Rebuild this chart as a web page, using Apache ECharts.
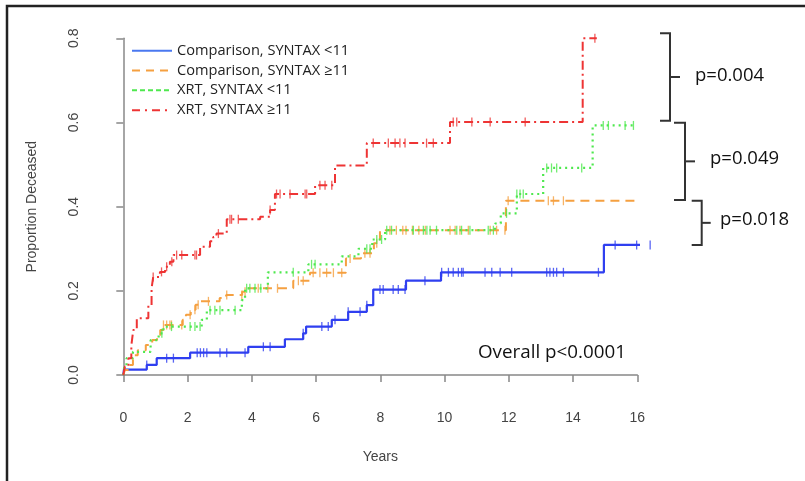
<!DOCTYPE html>
<html>
<head>
<meta charset="utf-8">
<script src="https://cdn.jsdelivr.net/npm/echarts@6/dist/echarts.min.js"></script>
<style>html,body{margin:0;padding:0;background:#fff;}#c{width:805px;height:481px;}</style>
</head>
<body>
<div id="c"></div>
<script>
// ---- Data (step points: [years, proportion]) ----
const seriesNames = ['Comparison, SYNTAX <11', 'Comparison, SYNTAX \u226511', 'XRT, SYNTAX <11', 'XRT, SYNTAX \u226511'];
const xTicks = [0, 2, 4, 6, 8, 10, 12, 14, 16];
const yTicks = [0.0, 0.2, 0.4, 0.6, 0.8];

const compLow = [[0,0],[0.02,0.013],[0.73,0.024],[1.04,0.04],[2.08,0.053],[3.89,0.067],[5.03,0.085],[5.6,0.099],[5.69,0.115],[6.49,0.131],[7.0,0.15],[7.58,0.166],[7.78,0.203],[8.8,0.224],[9.89,0.244],[14.96,0.309],[16.6,0.309]];
const compHigh = [[0,0],[0.05,0.012],[0.15,0.024],[0.3,0.047],[0.45,0.059],[0.7,0.071],[0.9,0.083],[1.05,0.095],[1.15,0.107],[1.25,0.119],[1.85,0.131],[1.95,0.143],[2.1,0.155],[2.25,0.167],[2.4,0.175],[3.0,0.183],[3.2,0.19],[3.7,0.198],[3.85,0.206],[5.29,0.224],[5.81,0.243],[6.93,0.277],[7.4,0.289],[7.8,0.313],[7.99,0.344],[11.91,0.414],[16.6,0.414]];
const xrtLow = [[0,0],[0.03,0.02],[0.1,0.04],[0.3,0.055],[0.85,0.083],[1.1,0.099],[1.25,0.115],[2.44,0.131],[2.6,0.154],[3.69,0.178],[3.79,0.206],[4.5,0.244],[5.76,0.263],[6.8,0.282],[7.32,0.30],[7.75,0.322],[8.15,0.344],[11.57,0.36],[11.75,0.384],[12.25,0.43],[13.07,0.492],[14.61,0.593],[15.98,0.593]];
const xrtHigh = [[0,0],[0.05,0.02],[0.16,0.04],[0.25,0.07],[0.31,0.107],[0.42,0.135],[0.78,0.166],[0.88,0.206],[0.93,0.233],[1.14,0.245],[1.3,0.257],[1.45,0.269],[1.56,0.285],[2.39,0.305],[2.7,0.318],[2.8,0.328],[2.9,0.336],[3.22,0.37],[4.26,0.376],[4.57,0.392],[4.72,0.43],[5.97,0.451],[6.59,0.498],[7.58,0.551],[10.17,0.601],[14.3,0.8],[14.74,0.8]];

// censoring times (years)
const censorCompLow = [0.73,1.35,1.56,2.3,2.4,2.5,2.6,3.01,3.22,3.79,4.36,4.57,5.6,6.18,6.38,6.59,7.0,7.37,7.58,7.99,8.09,8.4,8.56,8.77,9.39,9.91,10.12,10.27,10.43,10.53,10.58,11.26,11.47,11.73,12.09,13.18,13.28,13.39,13.49,13.7,14.79,15.31,15.98,16.4];
const censorCompHigh = [1.25,1.35,1.45,1.5,1.82,2.08,2.23,2.33,2.65,3.22,3.69,3.79,4.2,4.5,4.8,5.45,5.6,5.91,6.12,6.33,6.54,6.8,7.06,7.52,7.68,7.89,8.3,8.5,8.7,8.8,9.0,9.2,9.4,10.17,10.33,10.48,10.74,11.42,11.62,11.88,11.98,13.23,13.39,13.7];
const censorXrtLow = [1.2,1.5,2.08,2.23,2.39,2.7,2.85,3.01,3.48,3.84,3.94,4.1,4.28,5.29,5.86,5.97,7.58,7.68,7.89,8.04,8.2,8.35,9.03,9.34,9.45,9.55,9.75,10.38,10.53,10.79,11.36,11.52,11.93,12.25,12.35,12.45,13.18,13.33,13.49,14.27,14.94,15.1,15.62,15.88];
const censorXrtHigh = [0.93,1.19,1.35,1.51,1.66,1.82,2.23,2.28,2.96,3.32,3.37,3.58,4.57,4.77,4.88,5.19,5.66,5.71,6.12,6.28,6.49,7.78,8.25,8.46,8.61,8.77,9.44,9.65,10.27,10.38,10.85,11.42,12.51,14.68];

// ---- helpers ----
function stepValue(steps, t) {
  let v = steps[0][1];
  for (const p of steps) { if (p[0] <= t) v = p[1]; else break; }
  return v;
}
function censorPoints(steps, times) { return times.map(t => [t, stepValue(steps, t)]); }

const colors = ['#2f3ff0', '#f5a040', '#4ee84e', '#ee3434'];
const legendColors = ['#4a78f0', '#f5a040', '#4ee84e', '#ee3434'];
const dashes = ['solid', [9, 6], [2, 4], [9, 4, 2, 4]];
const legendDashes = [null, [8, 6], [5, 3], [8, 5, 2, 5]];
const stepData = [compLow, compHigh, xrtLow, xrtHigh];
const censorData = [censorCompLow, censorCompHigh, censorXrtLow, censorXrtHigh];
const widths = [2.2, 2, 2.2, 2];

const series = [];
for (let i = 0; i < 4; i++) {
  series.push({
    name: seriesNames[i], type: 'line', step: 'end', data: stepData[i],
    showSymbol: false, symbol: 'none', clip: false, z: 3 + i,
    lineStyle: { color: colors[i], width: widths[i], type: dashes[i] },
    itemStyle: { color: colors[i] }, silent: true, animation: false
  });
}
for (let i = 0; i < 4; i++) {
  series.push({
    name: seriesNames[i] + ' censored', type: 'scatter', data: censorPoints(stepData[i], censorData[i]),
    symbol: 'rect', symbolSize: [1.3, 9], clip: false, z: 3 + i,
    itemStyle: { color: colors[i], opacity: 0.8 }, silent: true, animation: false
  });
}

const font = '"Liberation Sans", Arial, sans-serif';
const brk = { stroke: '#333', lineWidth: 2 };
function bracket(x, y1, y2, armL, armR) {
  const ym = (y1 + y2) / 2;
  return [
    { type: 'polyline', shape: { points: [[x - armL, y1], [x, y1], [x, y2], [x - armL, y2]] }, style: Object.assign({ fill: null }, brk) },
    { type: 'line', shape: { x1: x, y1: ym, x2: x + armR, y2: ym }, style: brk }
  ];
}
function label(x, y, text, size) {
  return { type: 'text', x: x, y: y, silent: true,
    style: { text: text, font: size + 'px "Open Sans", sans-serif', fill: '#111', verticalAlign: 'middle', align: 'left' } };
}
// manual legend
const legendRows = [50.7, 70.5, 90.3, 110.3];
const legendGraphics = [];
for (let i = 0; i < 4; i++) {
  legendGraphics.push({ type: 'line', shape: { x1: 132, y1: legendRows[i], x2: 172, y2: legendRows[i] },
    style: { stroke: legendColors[i], lineWidth: 2, lineDash: legendDashes[i] }, silent: true });
  const t = label(177, legendRows[i], seriesNames[i], 14.6);
  t.style.fill = '#222';
  legendGraphics.push(t);
}

const chart = echarts.init(document.getElementById('c'), null, { renderer: 'canvas' });
chart.setOption({
  backgroundColor: '#fff',
  animation: false,
  grid: { left: 123.3, right: 167.7, top: 38.3, bottom: 106 },
  xAxis: {
    type: 'value', min: 0, max: 16, interval: 2, offset: 14,
    name: 'Years', nameLocation: 'middle', nameGap: 61,
    nameTextStyle: { fontFamily: font, fontSize: 14, color: '#444' },
    axisLine: { show: true, lineStyle: { color: '#888', width: 1.5 } },
    axisTick: { show: true, length: 7, lineStyle: { color: '#888', width: 1.5 } },
    axisLabel: { fontFamily: font, fontSize: 14, color: '#444', margin: 22, formatter: v => xTicks.includes(v) ? String(v) : '' },
    splitLine: { show: false }
  },
  yAxis: {
    type: 'value', min: 0, max: 0.8, interval: 0.2, offset: 22,
    name: 'Proportion Deceased', nameLocation: 'middle', nameGap: 62,
    nameTextStyle: { fontFamily: font, fontSize: 14, color: '#444' },
    axisLine: { show: true, lineStyle: { color: '#888', width: 1.5 } },
    axisTick: { show: true, length: 7, lineStyle: { color: '#888', width: 1.5 } },
    axisLabel: { fontFamily: font, fontSize: 14, color: '#444', rotate: 90, margin: 20,
      formatter: v => { const t = yTicks.find(k => Math.abs(k - v) < 1e-9); return t === undefined ? '' : t.toFixed(1); } },
    splitLine: { show: false }
  },
  graphic: [
    { type: 'rect', shape: { x: 7, y: 6, width: 830, height: 500 }, style: { fill: null, stroke: '#222', lineWidth: 2.5 }, silent: true },
    ...legendGraphics,
    ...bracket(670, 33.3, 120.7, 10, 10),
    ...bracket(685, 122.7, 200, 11, 10),
    ...bracket(701.7, 200.7, 245, 10, 9),
    label(695, 76, 'p=0.004', 18.5),
    label(710, 159, 'p=0.049', 18.5),
    label(720, 220, 'p=0.018', 18.5),
    label(478, 353, 'Overall p<0.0001', 18.8)
  ],
  series: series
});
</script>
</body>
</html>
